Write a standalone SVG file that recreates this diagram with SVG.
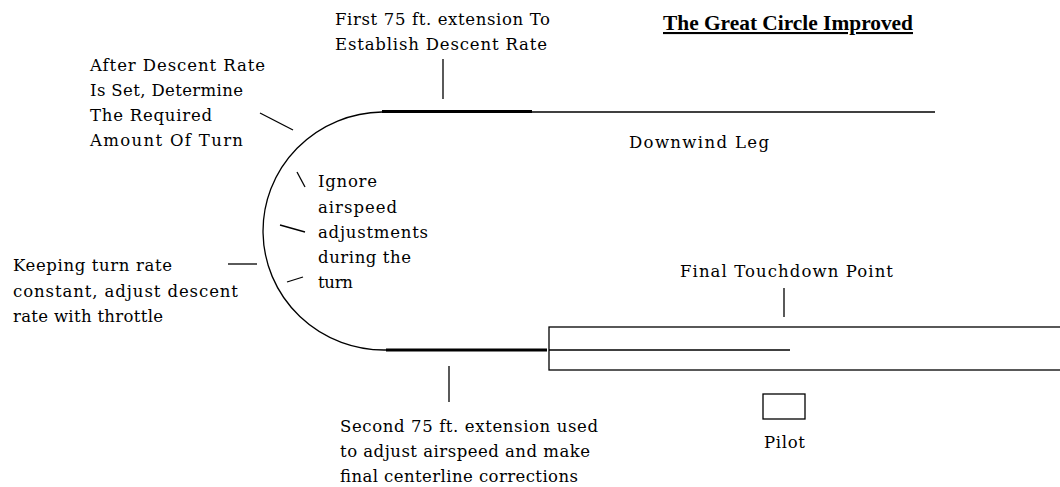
<svg xmlns="http://www.w3.org/2000/svg" width="1060" height="487" viewBox="0 0 1060 487">
<style>
.t{font-family:"DejaVu Serif","Liberation Serif",serif;font-size:16.5px;fill:#000}
.title{font-family:"Liberation Serif",serif;font-size:21px;font-weight:bold;fill:#000;text-decoration:underline}
.thin{stroke:#000;stroke-width:1.3;fill:none}
.thick{stroke:#000;stroke-width:3;fill:none}
</style>
<rect width="1060" height="487" fill="#fff"/>
<g id="title"><text class="title" x="663" y="30" textLength="250" lengthAdjust="spacingAndGlyphs">The Great Circle Improved</text></g>
<g id="pattern">
  <path class="thin" d="M382,112 A121,119 0 0 0 386,350"/>
  <line class="thick" x1="382" y1="111.5" x2="532" y2="111.5"/>
  <line class="thin" x1="532" y1="112" x2="935" y2="112"/>
  <line class="thick" x1="386" y1="350" x2="547" y2="350"/>
</g>
<g id="runway">
  <rect class="thin" x="549" y="327" width="520" height="43"/>
  <line class="thin" x1="549" y1="350" x2="790" y2="350"/>
</g>
<g id="pilot">
  <rect class="thin" x="763" y="394" width="42" height="25"/>
  <text class="t" x="764" y="448" textLength="41">Pilot</text>
</g>
<g id="connectors">
  <line class="thin" x1="260" y1="113" x2="293" y2="130"/>
  <line class="thin" x1="443" y1="59" x2="443" y2="99"/>
  <line class="thin" x1="297" y1="172" x2="305" y2="187"/>
  <line class="thin" x1="280" y1="225" x2="305" y2="232"/>
  <line class="thin" x1="287" y1="282" x2="303" y2="277"/>
  <line class="thin" x1="228" y1="264" x2="257" y2="264"/>
  <line class="thin" x1="449" y1="366" x2="449" y2="402"/>
  <line class="thin" x1="784" y1="288" x2="784" y2="317"/>
</g>
<g id="first-extension">
  <text class="t" x="335" y="25" textLength="215">First 75 ft. extension To</text>
  <text class="t" x="335" y="50" textLength="212">Establish Descent Rate</text>
</g>
<g id="after-descent">
  <text class="t" x="90" y="71" textLength="175">After Descent Rate</text>
  <text class="t" x="90" y="96" textLength="153">Is Set, Determine</text>
  <text class="t" x="90" y="121" textLength="122">The Required</text>
  <text class="t" x="90" y="146" textLength="153">Amount Of Turn</text>
</g>
<g id="downwind"><text class="t" x="629" y="148" textLength="140">Downwind Leg</text></g>
<g id="ignore">
  <text class="t" x="318" y="187" textLength="59">Ignore</text>
  <text class="t" x="318" y="213" textLength="79">airspeed</text>
  <text class="t" x="318" y="238" textLength="110">adjustments</text>
  <text class="t" x="318" y="263" textLength="93">during the</text>
  <text class="t" x="318" y="288" textLength="35">turn</text>
</g>
<g id="keeping">
  <text class="t" x="13" y="271" textLength="159">Keeping turn rate</text>
  <text class="t" x="13" y="297" textLength="225">constant, adjust descent</text>
  <text class="t" x="13" y="322" textLength="150">rate with throttle</text>
</g>
<g id="touchdown"><text class="t" x="680" y="277" textLength="213">Final Touchdown Point</text></g>
<g id="second-extension">
  <text class="t" x="340" y="432" textLength="258">Second 75 ft. extension used</text>
  <text class="t" x="340" y="457" textLength="250">to adjust airspeed and make</text>
  <text class="t" x="340" y="482" textLength="238">final centerline corrections</text>
</g>
</svg>
